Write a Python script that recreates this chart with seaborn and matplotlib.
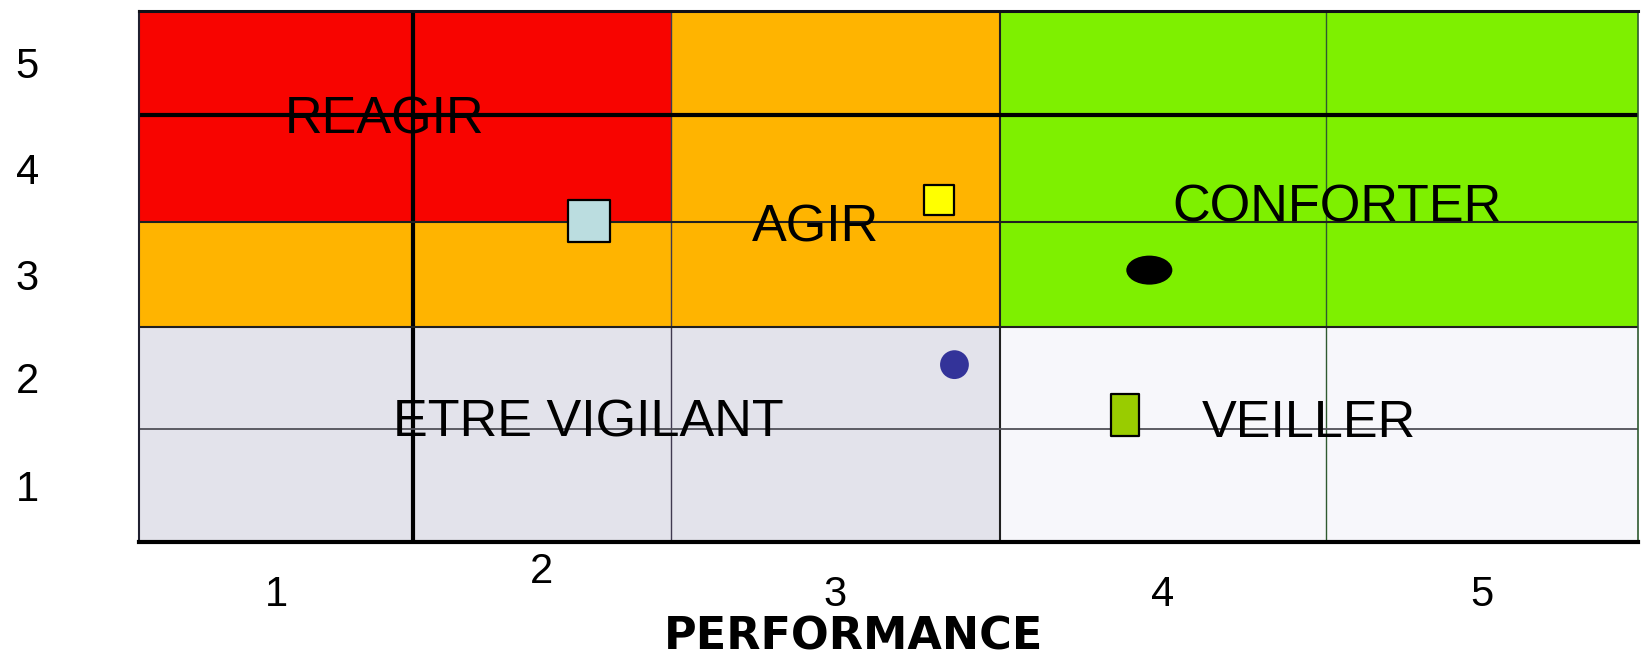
import numpy as np
import pandas as pd
import matplotlib.pyplot as plt
import seaborn as sns
from matplotlib.colors import ListedColormap
from matplotlib.path import Path
from matplotlib.transforms import Affine2D

# --- data ---
zone_names = ["ETRE VIGILANT", "VEILLER", "AGIR", "REAGIR", "CONFORTER"]
# rows from score 1 (bottom) to score 5 (top), columns performance 1..5
zone_grid = [
    ["ETRE VIGILANT", "ETRE VIGILANT", "ETRE VIGILANT", "VEILLER", "VEILLER"],
    ["ETRE VIGILANT", "ETRE VIGILANT", "ETRE VIGILANT", "VEILLER", "VEILLER"],
    ["AGIR", "AGIR", "AGIR", "CONFORTER", "CONFORTER"],
    ["REAGIR", "REAGIR", "AGIR", "CONFORTER", "CONFORTER"],
    ["REAGIR", "REAGIR", "AGIR", "CONFORTER", "CONFORTER"],
]
perf_labels = ["1", "2", "3", "4", "5"]
score_labels = ["1", "2", "3", "4", "5"]

point_ids = ["p1", "p2", "p3", "p4", "p5"]
point_perf = [2.00, 3.17, 3.87, 3.22, 3.79]
point_score = [3.52, 3.72, 3.06, 2.17, 1.70]

# --- styles / layout ---
zone_colors = {"ETRE VIGILANT": "#E3E3EB", "VEILLER": "#F7F7FB", "AGIR": "#FFB400",
               "REAGIR": "#F80400", "CONFORTER": "#7EF000"}
x_edges = [0.5, 1.414, 2.274, 3.372, 4.459, 5.5]
y_edges = [0.5, 1.564, 2.525, 3.513, 4.521, 5.5]

ellipse = Path.unit_circle().transformed(Affine2D().scale(1.0, 0.63))
tall_rect = Path([(-0.68, -1), (0.68, -1), (0.68, 1), (-0.68, 1), (-0.68, -1)],
                 [Path.MOVETO, Path.LINETO, Path.LINETO, Path.LINETO, Path.CLOSEPOLY])
point_style = {
    "p1": dict(marker="s", s=900, color="#BBDDE0", edgecolor="black", linewidth=1.6),
    "p2": dict(marker="s", s=440, color="#FFFF00", edgecolor="black", linewidth=1.6),
    "p3": dict(marker=ellipse, s=1100, color="black", edgecolor="none", linewidth=0),
    "p4": dict(marker="o", s=430, color="#333399", edgecolor="none", linewidth=0),
    "p5": dict(marker=tall_rect, s=880, color="#99CC00", edgecolor="black", linewidth=1.6),
}

sns.set_theme(style="white")
plt.rcParams["font.family"] = ["Liberation Sans", "DejaVu Sans"]

fig = plt.figure(figsize=(16.41, 6.60), dpi=100)
ax = fig.add_axes([139 / 1641, 118 / 660, 1499 / 1641, 531 / 660])

# zone background
codes = np.array([[zone_names.index(z) for z in row] for row in zone_grid])
cmap = ListedColormap([zone_colors[z] for z in zone_names])
ax.pcolormesh(x_edges, y_edges, codes, cmap=cmap, vmin=-0.5, vmax=len(zone_names) - 0.5)

# grid lines
v_lw = [3.0, 1.0, 1.5, 1.0]
v_col = ["black", "#403a50", "#202020", "#2f5a2f"]
for xe, lw, c in zip(x_edges[1:-1], v_lw, v_col):
    ax.axvline(xe, color=c, lw=lw, zorder=2)
h_lw = [1.3, 1.5, 1.5, 3.0]
h_col = ["#505058", "#202020", "#202020", "black"]
for ye, lw, c in zip(y_edges[1:-1], h_lw, h_col):
    ax.axhline(ye, color=c, lw=lw, zorder=2)

# zone labels
label_pos = {"REAGIR": (1.32, 4.47), "AGIR": (2.755, 3.46), "CONFORTER": (4.496, 3.645),
             "ETRE VIGILANT": (2.0, 1.62), "VEILLER": (4.403, 1.62)}
for name, (lx, ly) in label_pos.items():
    ax.text(lx, ly, name, ha="center", va="center", fontsize=37.5, color="black", zorder=3)

# points
df = pd.DataFrame({"id": point_ids, "perf": point_perf, "score": point_score})
for _, r in df.iterrows():
    sns.scatterplot(data=df[df["id"] == r["id"]], x="perf", y="score", ax=ax,
                    zorder=4, legend=False, **point_style[r["id"]])

ax.set_xlim(x_edges[0], x_edges[-1])
ax.set_ylim(y_edges[0], y_edges[-1])

xc = [(a + b) / 2 for a, b in zip(x_edges[:-1], x_edges[1:])]
yc = [(a + b) / 2 for a, b in zip(y_edges[:-1], y_edges[1:])]
ax.set_xticks(xc, perf_labels)
ax.set_yticks(yc, score_labels)
ax.tick_params(axis="both", length=0, labelsize=30, colors="black")
ax.tick_params(axis="y", pad=72)
ax.tick_params(axis="x", pad=24)
ax.xaxis.get_major_ticks()[1].set_pad(7)

ax.set_xlabel("PERFORMANCE", fontsize=32, fontweight="bold", family="DejaVu Sans",
              color="black")
ax.xaxis.set_label_coords(0.477, -0.1375)
ax.set_ylabel("")

for side, lw, c in [("top", 2.2, "#101018"), ("bottom", 3.0, "black"),
                    ("left", 1.5, "#202030"), ("right", 1.2, "#2f5a2f")]:
    ax.spines[side].set_visible(True)
    ax.spines[side].set_linewidth(lw)
    ax.spines[side].set_color(c)

fig.savefig("out.png", dpi=100)
